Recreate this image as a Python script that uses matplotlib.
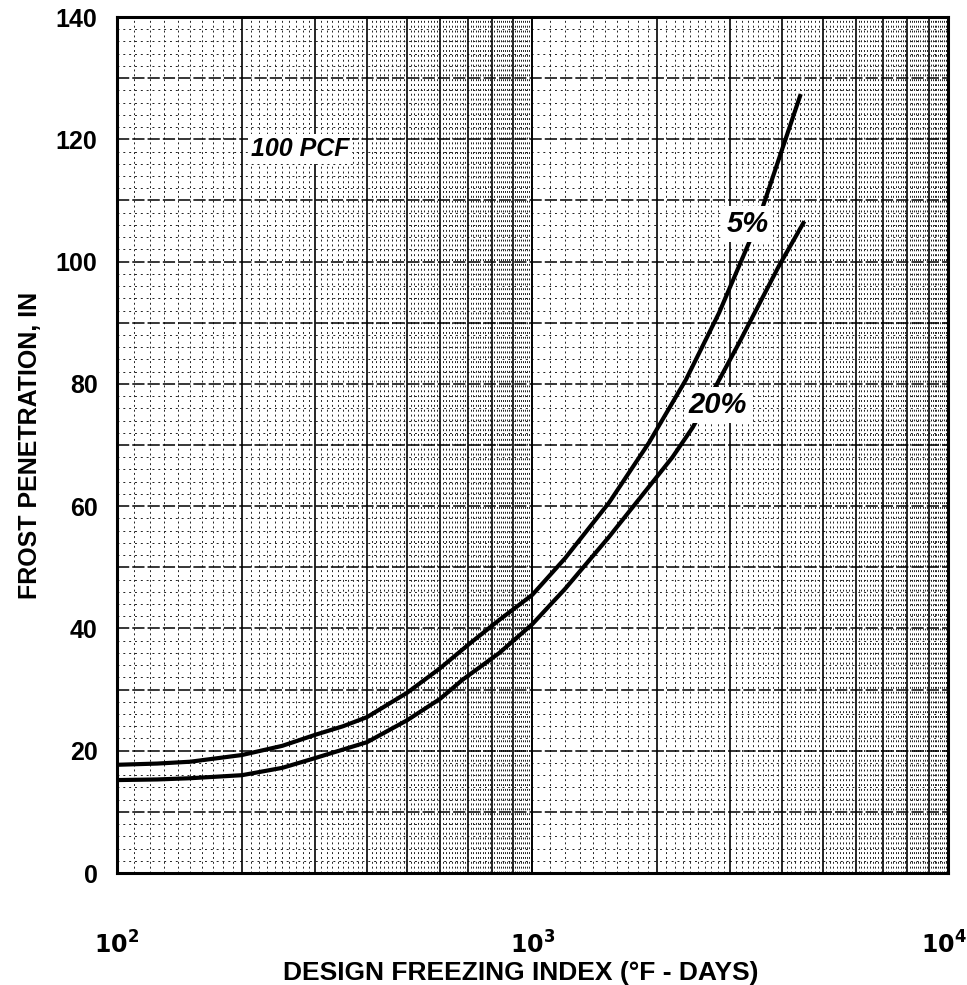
import numpy as np
import matplotlib
matplotlib.use("Agg")
import matplotlib.pyplot as plt
from matplotlib.transforms import ScaledTranslation

# Data (design freezing index, frost penetration)
fi_5 = [100, 125, 150, 200, 250, 300, 350, 400, 500, 600, 700, 833, 1000, 1200,
        1531, 1910, 2344, 2815, 3325, 3590, 4428]
fp_5 = [17.7, 17.9, 18.2, 19.3, 20.8, 22.6, 24.0, 25.5, 29.5, 33.5, 37.3, 41.4, 45.5, 51.5,
        60.6, 70.4, 80.7, 91.6, 103.1, 109.0, 127.4]
fi_20 = [100, 125, 150, 200, 250, 300, 400, 500, 600, 679, 833, 1000, 1200, 1531,
         2174, 2429, 2764, 3146, 3925, 4519]
fp_20 = [15.2, 15.3, 15.5, 16.0, 17.2, 18.8, 21.4, 25.0, 28.5, 31.6, 36.0, 40.7, 46.5, 55.0,
         68.0, 72.8, 79.6, 86.7, 99.3, 106.6]

series_labels = ["5%", "20%"]
label_pos_x = [3305, 2800]
label_pos_y = [106.1, 76.5]
density_label = "100 PCF"

y_ticks = [0, 20, 40, 60, 80, 100, 120, 140]
x_ticks = [100, 1000, 10000]
x_tick_labels = [r"$\mathbf{10^2}$", r"$\mathbf{10^3}$", r"$\mathbf{10^4}$"]

font = "Liberation Sans"
fig = plt.figure(figsize=(9.67, 9.85), dpi=100)
ax = fig.add_axes([0.121, 0.1137, 0.859, 0.869])
ax.set_xscale("log")
ax.set_xlim(100, 10000)
ax.set_ylim(0, 140)

# log-paper grid
major_x = [m * d for d in (100, 1000) for m in range(2, 10)]
minor_x = []
for d in (100, 1000):
    for v in range(d + d // 10, 10 * d, d // 10):
        if v % d != 0:
            minor_x.append(v)
for v in minor_x:
    ax.axvline(v, color="#222222", lw=0.7, ls=(0, (2, 3)), zorder=1)
for v in major_x:
    ax.axvline(v, color="black", lw=1.2, zorder=1.5)
ax.axvline(1000, color="black", lw=1.4, zorder=1.5)
for y in np.arange(2, 140, 2):
    if y % 10 != 0:
        ax.axhline(y, color="#222222", lw=0.7, ls=(0, (2, 4)), zorder=1)
for y in range(10, 140, 10):
    ax.axhline(y, color="black", lw=1.1, ls=(0, (8, 2)), zorder=1.5)

ax.plot(fi_5, fp_5, color="black", lw=3, zorder=3, solid_capstyle="butt",
        solid_joinstyle="round")
ax.plot(fi_20, fp_20, color="black", lw=3, zorder=3, solid_capstyle="butt",
        solid_joinstyle="round")

for lab, lx, ly in zip(series_labels, label_pos_x, label_pos_y):
    ax.text(lx, ly, lab, fontsize=21, fontweight="bold", fontstyle="italic",
            family=font, ha="center", va="center", zorder=4,
            bbox=dict(facecolor="white", edgecolor="none", pad=3))
ax.text(276, 118.4, density_label, fontsize=18, fontweight="bold", fontstyle="italic",
        family=font, ha="center", va="center", zorder=4,
        bbox=dict(facecolor="white", edgecolor="none", pad=2))

ax.set_yticks(y_ticks)
ax.set_yticklabels([str(t) for t in y_ticks], fontsize=18, fontweight="bold", family=font)
ax.set_xticks(x_ticks)
ax.set_xticklabels(x_tick_labels, fontsize=17, family=font)
ax.xaxis.set_minor_locator(matplotlib.ticker.NullLocator())
ax.tick_params(axis="y", length=0, pad=14)
ax.tick_params(axis="x", length=0, pad=42)
last = ax.get_xticklabels()[-1]
last.set_transform(last.get_transform() + ScaledTranslation(-3 / 72, 0, fig.dpi_scale_trans))
for s in ax.spines.values():
    s.set_linewidth(2.2)

fig.text(0.539, 1 - 973 / 985, "DESIGN FREEZING INDEX (°F - DAYS)", fontsize=19,
         fontweight="bold", family=font, ha="center", va="center")
ax.set_ylabel("FROST PENETRATION, IN", fontsize=18, fontweight="bold",
              family=["Liberation Sans Narrow", font], labelpad=10)

fig.savefig("out.png", dpi=100)
